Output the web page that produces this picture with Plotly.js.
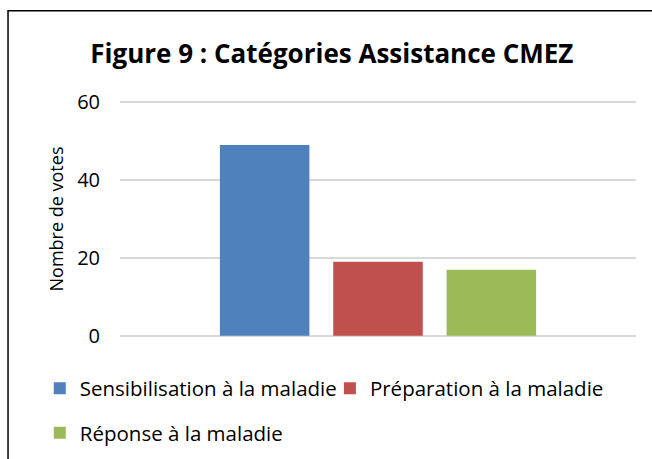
<!DOCTYPE html>
<html>
<head>
<meta charset="utf-8">
<script src="https://cdn.plot.ly/plotly-3.0.1.min.js"></script>
<style>html,body{margin:0;padding:0;background:#fff;}#chart{width:652px;height:459px;}</style>
</head>
<body>
<div id="chart"></div>
<script>
const seriesNames = ["Sensibilisation à la maladie", "Préparation à la maladie", "Réponse à la maladie"];
const seriesValues = [49, 19, 17];
const seriesColors = ["#4F81BD", "#C0504D", "#9BBB59"];
const category = ["Catégories"];
const yTicks = [0, 20, 40, 60];

const FONT = "Open Sans";
const legendIds = ["legend", "legend2", "legend3"];
const traces = seriesNames.map((n, i) => ({
  type: "bar",
  name: n,
  x: category,
  y: [seriesValues[i]],
  marker: {color: seriesColors[i]},
  legend: legendIds[i],
  hoverinfo: "none"
}));

function leg(x, y) {
  return {orientation: "h", xref: "container", yref: "container", x: x, y: y, xanchor: "left", yanchor: "middle",
          font: {family: FONT, size: 20.5, color: "#000"}, itemwidth: 30, bgcolor: "rgba(0,0,0,0)", borderwidth: 0};
}

const layout = {
  width: 652, height: 459,
  margin: {l: 120, r: 16, t: 101, b: 122},
  paper_bgcolor: "#fff", plot_bgcolor: "#fff",
  font: {family: FONT, color: "#000"},
  title: {text: "<b>Figure 9 : Catégories Assistance CMEZ</b>", font: {family: FONT, size: 26, color: "#000"},
          x: 0.509, xref: "container", xanchor: "center", y: 0.882, yref: "container", yanchor: "middle"},
  barmode: "group",
  bargap: 0.341,
  bargroupgap: 0.21,
  xaxis: {showticklabels: false, showgrid: false, zeroline: false, showline: false, ticks: ""},
  yaxis: {range: [-0.3, 60.3], tickvals: yTicks, ticktext: yTicks.map(String), showgrid: true,
          gridcolor: "#d9d9d9", gridwidth: 1.5, zeroline: false, showline: false, ticks: "",
          ticklabelstandoff: 19, tickfont: {family: FONT, size: 20, color: "#000"},
          title: {text: "Nombre de votes", font: {family: FONT, size: 18, color: "#000"}, standoff: 8}},
  showlegend: true,
  legend: leg(0.061, 0.1536),
  legend2: leg(0.506, 0.1536),
  legend3: leg(0.061, 0.0566),
  shapes: [{type: "rect", xref: "paper", yref: "paper", x0: -0.217, x1: 1.1, y0: -0.6, y1: 1.3819,
            line: {color: "#000", width: 1.5}, fillcolor: "rgba(0,0,0,0)", layer: "above"}]
};

Plotly.newPlot("chart", traces, layout, {displayModeBar: false, staticPlot: true});
</script>
</body>
</html>
